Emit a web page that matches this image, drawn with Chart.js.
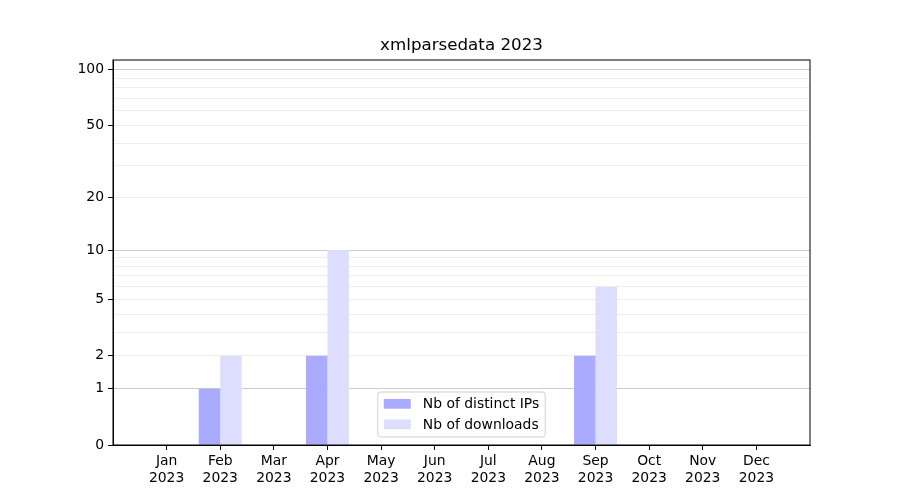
<!DOCTYPE html>
<html>
<head>
<meta charset="utf-8">
<script src="https://cdn.jsdelivr.net/npm/chart.js@4"></script>
<style>
  html, body { margin: 0; padding: 0; background: #fff; }
  #wrap { width: 900px; height: 500px; }
</style>
</head>
<body>
<div id="wrap"><canvas id="chart"></canvas></div>
<script>
const months = [ 'Jan', 'Feb', 'Mar', 'Apr', 'May', 'Jun', 'Jul', 'Aug', 'Sep', 'Oct', 'Nov', 'Dec' ];
const year = '2023';
const distinctIPs = [ 0, 1, 0, 2, 0, 0, 0, 0, 2, 0, 0, 0 ];
const downloads = [ 0, 2, 0, 10, 0, 0, 0, 0, 6, 0, 0, 0 ];
const gridValues = [ 0, 1, 2, 3, 4, 5, 6, 7, 8, 9, 10, 20, 30, 40, 50, 60, 70, 80, 90, 100 ];
const labelledValues = [ 0, 1, 2, 5, 10, 20, 50, 100 ];
const majorValues = [ 1, 10, 100 ];
const yTop = 113;

// y axis is log10(1 + v)
const toY = (v) => Math.log10(1 + v);

// one empty slot each side so the axis runs a full category past Jan and Dec
const labels = [ '' ].concat(months.map((m) => [ m, year ]), [ '' ]);
const pad = (arr) => [ null ].concat(arr.map(toY), [ null ]);

Chart.defaults.font.family = 'DejaVu Sans';
Chart.defaults.font.size = 13.9;
Chart.defaults.color = '#000';

const frameAndText = {
	id: 'frameAndText',
	afterDraw(chart) {
		const c = chart.ctx;
		const a = chart.chartArea;
		c.save();
		c.strokeStyle = '#000';
		c.lineWidth = 1;
		c.strokeRect(a.left, a.top, a.right - a.left, a.bottom - a.top);

		// title
		c.fillStyle = '#000';
		c.font = '16.7px "DejaVu Sans"';
		c.textAlign = 'center';
		c.textBaseline = 'middle';
		c.fillText('xmlparsedata ' + year, (a.left + a.right) / 2, a.top - 14);

		// legend inside the plot, bottom centre
		c.font = '13.9px "DejaVu Sans"';
		const items = chart.data.datasets;
		let textW = 0;
		items.forEach((d) => (textW = Math.max(textW, c.measureText(d.label).width)));
		const w = 6 + 27 + 12 + textW + 6;
		const h = 45;
		const x0 = (a.left + a.right) / 2 - w / 2;
		const y0 = a.bottom - 8 - h;
		c.beginPath();
		c.roundRect(x0, y0, w, h, 3);
		c.fillStyle = 'rgba(255,255,255,0.8)';
		c.fill();
		c.strokeStyle = '#d0d0d0';
		c.stroke();
		c.textAlign = 'left';
		items.forEach((d, i) => {
			const cy = y0 + 12 + i * 20.5;
			c.fillStyle = d.backgroundColor;
			c.fillRect(x0 + 6, cy - 5, 27, 9.7);
			c.fillStyle = '#000';
			c.fillText(d.label, x0 + 6 + 27 + 12, cy + 0.5);
		});
		c.restore();
	}
};

new Chart(document.getElementById('chart').getContext('2d'), {
	type: 'bar',
	data: {
		labels: labels,
		datasets: [
			{
				label: 'Nb of distinct IPs',
				data: pad(distinctIPs),
				backgroundColor: '#aaaaff',
				categoryPercentage: 0.8,
				barPercentage: 1.0
			},
			{
				label: 'Nb of downloads',
				data: pad(downloads),
				backgroundColor: '#ddddff',
				categoryPercentage: 0.8,
				barPercentage: 1.0
			}
		]
	},
	options: {
		responsive: true,
		maintainAspectRatio: false,
		animation: false,
		devicePixelRatio: 1,
		layout: {
			padding: { left: 0, right: 90, top: 60, bottom: 0 }
		},
		plugins: {
			legend: { display: false },
			title: { display: false },
			tooltip: { enabled: false }
		},
		scales: {
			x: {
				offset: false,
				afterFit: (s) => { s.height = 55; },
				border: { color: '#000' },
				grid: {
					offset: false,
					drawOnChartArea: false,
					tickLength: 5,
					tickColor: (ctx) => (ctx.index === 0 || ctx.index === labels.length - 1 ? 'rgba(0,0,0,0)' : '#000')
				},
				ticks: {
					autoSkip: false,
					maxRotation: 0,
					padding: 3
				}
			},
			y: {
				min: 0,
				max: toY(yTop),
				z: 1,
				afterFit: (s) => { s.width = 113; },
				afterBuildTicks: (s) => {
					s.ticks = gridValues.map((v) => ({ value: toY(v) }));
				},
				border: { color: '#000' },
				grid: {
					tickLength: 5,
					color: (ctx) => {
						const v = gridValues[ctx.index];
						if (v === 0) return 'rgba(0,0,0,0)';
						return majorValues.includes(v) ? 'rgba(0,0,0,0.2)' : 'rgba(0,0,0,0.07)';
					},
					tickColor: (ctx) => (labelledValues.includes(gridValues[ctx.index]) ? '#000' : 'rgba(0,0,0,0)')
				},
				ticks: {
					autoSkip: false,
					padding: 4,
					callback: (value, index) => {
						const v = gridValues[index];
						return labelledValues.includes(v) ? String(v) : '';
					}
				}
			}
		}
	},
	plugins: [ frameAndText ]
});
</script>
</body>
</html>
